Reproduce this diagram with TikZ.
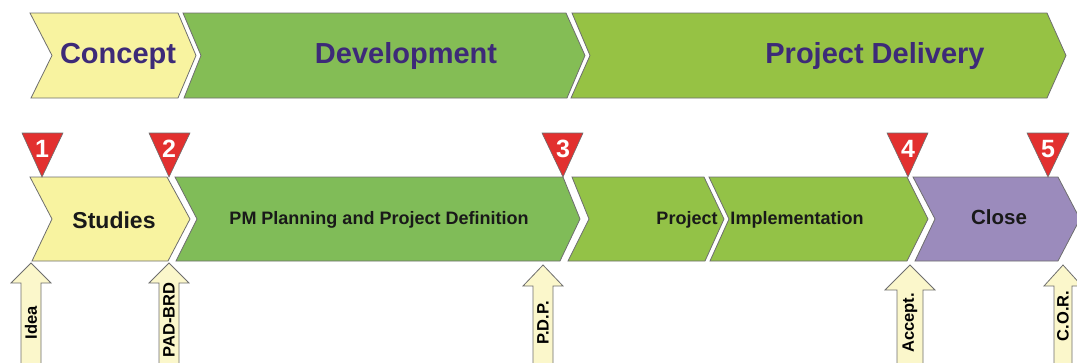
\documentclass[tikz,border=0pt]{standalone}
\usepackage{fontspec}
\setmainfont{Liberation Sans}
\definecolor{cyel}{HTML}{F8F3A0}
\definecolor{cdev}{HTML}{84BD55}
\definecolor{cdel}{HTML}{96C244}
\definecolor{cpm}{HTML}{80BC58}
\definecolor{cimp}{HTML}{93C247}
\definecolor{cclose}{HTML}{9B8BBC}
\definecolor{ctxt}{HTML}{3D2A78}
\definecolor{cred}{HTML}{E2302F}
\definecolor{carr}{HTML}{FBF7CB}
\definecolor{cedge}{HTML}{6E6E6E}
\tikzset{
  chev/.style={draw=cedge, line width=0.8pt, line join=miter},
  toplabel/.style={font=\bfseries\fontsize{29}{29}\selectfont, text=ctxt, inner sep=0pt},
  rowlabel/.style={font=\bfseries\fontsize{18}{18}\selectfont, text=black!90, inner sep=0pt},
  tri/.style={fill=cred, draw=cedge, line width=0.6pt},
  trinum/.style={font=\bfseries\fontsize{25}{25}\selectfont, text=white, inner sep=0pt},
  arr/.style={fill=carr, draw=cedge, line width=0.8pt},
  arrlabel/.style={font=\bfseries\fontsize{16.5}{16.5}\selectfont, text=black, inner sep=0pt, rotate=90}
}
\newcommand{\myuparrow}[5]{% tipx tipy basey headhalf shafthalf
  \path[arr] (#1,#2) -- (#1+#4,#3) -- (#1+#5,#3) -- (#1+#5,372) -- (#1-#5,372)
    -- (#1-#5,#3) -- (#1-#4,#3) -- cycle;}
\newcommand{\mytri}[3]{% leftx rightx tipx
  \path[tri] (#1,133) -- (#2,133) -- (#3,177) -- cycle;}
\begin{document}
\begin{tikzpicture}[x=1pt,y=-1pt]
\useasboundingbox (0,0) rectangle (1077,362);
\begin{scope}
\clip (0,0) rectangle (1077,362);
% top row
\path[chev, fill=cyel] (30,13) -- (178,13) -- (196,55.5) -- (178,98) -- (31,98) -- (52,55.5) -- cycle;
\path[chev, fill=cdev] (183,13) -- (566,13) -- (585,55.5) -- (567,98) -- (184,98) -- (201,55.5) -- cycle;
\path[chev, fill=cdel] (572,13) -- (1047,13) -- (1066,55.5) -- (1047,98) -- (571,98) -- (590,55.5) -- cycle;
\node[toplabel] (concept) at (118,56) {Concept};
\node[toplabel] (development) at (406,56) {Development};
\node[toplabel] (delivery) at (875,56) {Project Delivery};
% second row
\path[chev, fill=cyel] (30,177) -- (167,177) -- (190,219) -- (168,261) -- (32,261) -- (52,219) -- cycle;
\path[chev, fill=cpm] (175,177) -- (563,177) -- (580,219) -- (560,261) -- (176,261) -- (197,219) -- cycle;
\path[chev, fill=cimp] (572,177) -- (704,177) -- (724,219) -- (705,261) -- (568,261) -- (589,219) -- cycle;
\path[chev, fill=cimp] (709,177) -- (907,177) -- (928,219) -- (907,261) -- (710,261) -- (729,219) -- cycle;
\path[chev, fill=cclose] (913,177) -- (1058,177) -- (1080,219) -- (1058,261) -- (915,261) -- (935,219) -- cycle;
\node[rowlabel, font=\bfseries\fontsize{23}{23}\selectfont] (studies) at (114,220) {Studies};
\node[rowlabel] (pm) at (379,220) {PM Planning and Project Definition};
\node[rowlabel] (project) at (687,220) {Project};
\node[rowlabel] (impl) at (797,220) {Implementation};
\node[rowlabel, font=\bfseries\fontsize{20.5}{20.5}\selectfont] (close) at (999,217) {Close};
% milestones
\mytri{22}{63}{42}
\mytri{149}{190}{169}
\mytri{542}{583}{563}
\mytri{887}{928}{908}
\mytri{1027}{1069}{1048}
\node[trinum] (m1) at (42,149) {1};
\node[trinum] (m2) at (169,149) {2};
\node[trinum] (m3) at (563,149) {3};
\node[trinum] (m4) at (908,149) {4};
\node[trinum] (m5) at (1048,149) {5};
% inputs
\myuparrow{31}{263}{283}{20}{10}
\myuparrow{169}{263}{283}{20}{10}
\myuparrow{543}{265}{286}{20}{10}
\myuparrow{910}{265}{290}{25}{13}
\myuparrow{1063}{265}{286}{19}{9}
\node[arrlabel] (idea) at (31,323) {Idea};
\node[arrlabel] (pad) at (169,320) {PAD-BRD};
\node[arrlabel] (pdp) at (543,323) {P.D.P.};
\node[arrlabel] (accept) at (910,323) {Accept.};
\node[arrlabel] (cor) at (1063,316) {C.O.R.};
\end{scope}
\end{tikzpicture}
\end{document}
